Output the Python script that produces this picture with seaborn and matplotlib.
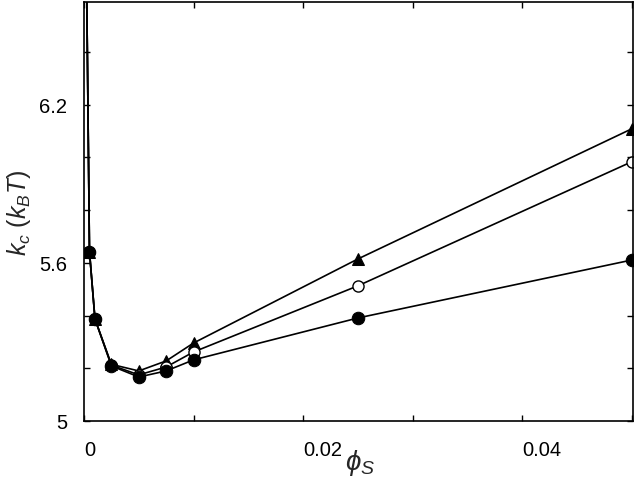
import matplotlib
matplotlib.use("Agg")
import matplotlib.pyplot as plt
import seaborn as sns
import pandas as pd
from matplotlib.ticker import FixedLocator, FuncFormatter

phi_s = [0.0, 0.0005, 0.001, 0.0025, 0.005, 0.0075, 0.01, 0.025, 0.05]
kc_filled = [7.6, 5.643, 5.387, 5.209, 5.167, 5.190, 5.232, 5.391, 5.611]
kc_open = [7.6, 5.643, 5.387, 5.212, 5.175, 5.205, 5.262, 5.513, 5.984]
kc_triangle = [7.6, 5.643, 5.387, 5.215, 5.190, 5.228, 5.296, 5.615, 6.109]

x_ticks = [0.0, 0.01, 0.02, 0.03, 0.04, 0.05]
x_labels = {0.0: "0", 0.02: "0.02", 0.04: "0.04"}
y_ticks = [5.0, 5.2, 5.4, 5.6, 5.8, 6.0, 6.2, 6.4]
y_labels = {5.0: "5", 5.6: "5.6", 6.2: "6.2"}

sns.set_style("ticks")
plt.rcParams["font.family"] = ["Liberation Sans", "DejaVu Sans"]
plt.rcParams["mathtext.fontset"] = "custom"
plt.rcParams["mathtext.rm"] = "Liberation Sans"
plt.rcParams["mathtext.it"] = "Liberation Sans:italic"
plt.rcParams["mathtext.bf"] = "Liberation Sans:bold"

fig = plt.figure(figsize=(6.4, 4.85), dpi=100)
ax = fig.add_axes([84 / 640, 1 - 422 / 485, (633 - 84) / 640, (422 - 3) / 485])

series = [
    (kc_triangle, dict(marker="^", markersize=8, markerfacecolor="black", markeredgecolor="black")),
    (kc_open, dict(marker="o", markersize=8, markerfacecolor="white", markeredgecolor="black", markeredgewidth=1.0)),
    (kc_filled, dict(marker="o", markersize=9, markerfacecolor="black", markeredgecolor="black")),
]
for vals, style in series:
    df = pd.DataFrame({"phi": phi_s, "kc": vals})
    sns.lineplot(data=df, x="phi", y="kc", ax=ax, color="black", linewidth=1.2, **style)

ax.set_xlim(0, 0.0501)
ax.set_ylim(5.0, 6.59)

ax.xaxis.set_major_locator(FixedLocator(x_ticks))
ax.xaxis.set_major_formatter(FuncFormatter(lambda v, p: next((s for k, s in x_labels.items() if abs(k - v) < 1e-9), "")))
ax.yaxis.set_major_locator(FixedLocator(y_ticks))
ax.yaxis.set_major_formatter(FuncFormatter(lambda v, p: next((s for k, s in y_labels.items() if abs(k - v) < 1e-9), "")))

ax.tick_params(direction="in", length=4, width=1, top=True, right=True, labelsize=14.5, colors="black")
ax.tick_params(axis="x", pad=14)
ax.tick_params(axis="y", pad=12)
for lab in ax.get_xticklabels():
    lab.set_horizontalalignment("left")
for s in ax.spines.values():
    s.set_linewidth(1.2)
    s.set_color("black")

ax.set_xlabel(r"$\phi_S$", fontsize=20)
ax.xaxis.set_label_coords(0.503, -0.062)
ax.set_ylabel(r"$k_c\ (k_B T)$", fontsize=18)
ax.yaxis.set_label_coords(-0.092, 0.5)

fig.savefig("out.png", dpi=100)
